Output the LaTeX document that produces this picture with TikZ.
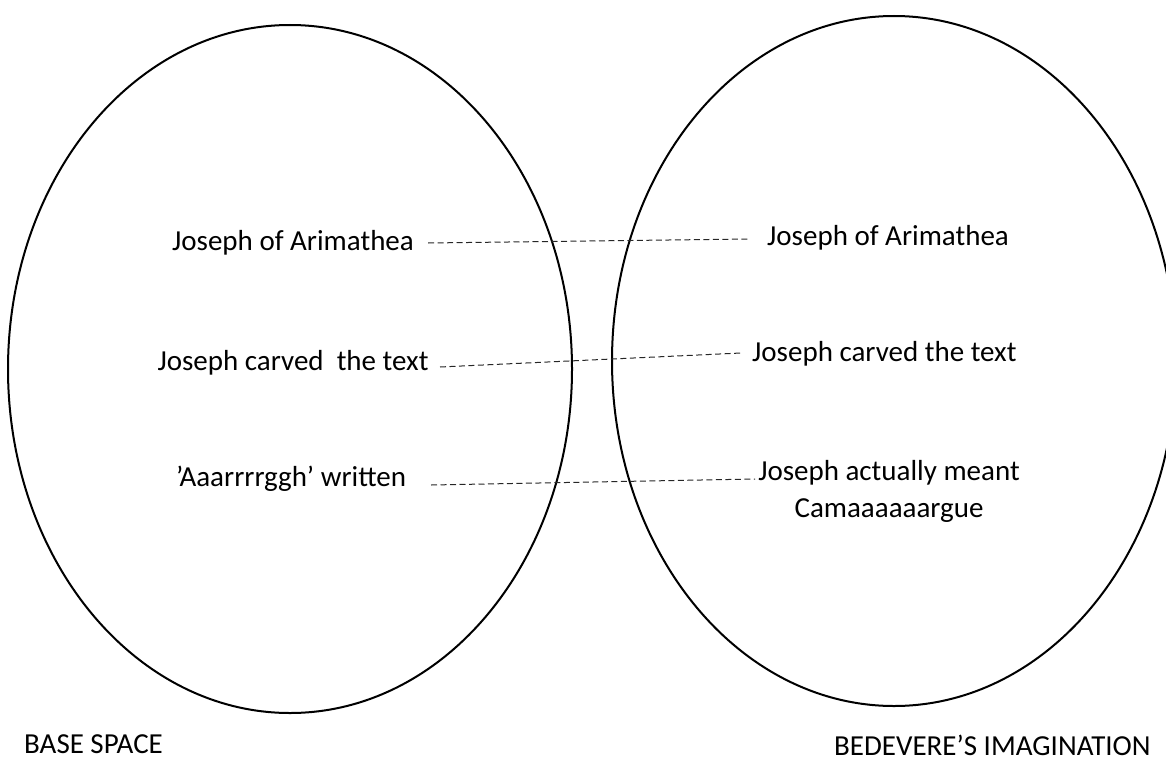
\documentclass[tikz,border=0pt]{standalone}
\usepackage{fontspec}
\setmainfont{Carlito}
\begin{document}
\begin{tikzpicture}[x=1pt,y=-1pt,
  label text/.style={inner sep=0pt, font=\fontsize{29}{37}\selectfont},
  space/.style={line width=2pt},
  link/.style={line width=1pt, draw=black!85, dash pattern=on 6pt off 3.5pt}]
\useasboundingbox (0,0) rectangle (1166,760);
\begin{scope}
\clip (0,0) rectangle (1166,760);
\draw[space] (290,369) ellipse [x radius=282, y radius=344];
\draw[space] (894,361) ellipse [x radius=282, y radius=345];
\end{scope}
% left texts
\node[label text, anchor=base] (l1) at (293,250) {Joseph of Arimathea};
\node[label text, anchor=base] (l2) at (293,370) {Joseph carved\ \ the text};
\node[label text, anchor=base] (l3) at (291,486) {’Aaarrrrggh’ written};
% right texts
\node[label text, anchor=base west] (r1) at (767,245) {Joseph of Arimathea};
\node[label text, anchor=base west] (r2) at (752,361) {Joseph carved the text};
\node[label text, anchor=north, align=center] (r3) at (889,460) {Joseph actually meant\\Camaaaaaargue};
% titles
\node[label text, anchor=base west] (b1) at (24,753) {BASE SPACE};
\node[label text, anchor=base west] (b2) at (834,755) {BEDEVERE’S IMAGINATION};
% connectors
\coordinate (s1) at (428,243);
\coordinate (e1) at (749,239);
\coordinate (s2) at (440,367);
\coordinate (e2) at (741,353);
\coordinate (s3) at (431,485);
\coordinate (e3) at (755,479);
\draw[link] (s1) -- (e1);
\draw[link] (s2) -- (e2);
\draw[link] (s3) -- (e3);
\end{tikzpicture}
\end{document}
